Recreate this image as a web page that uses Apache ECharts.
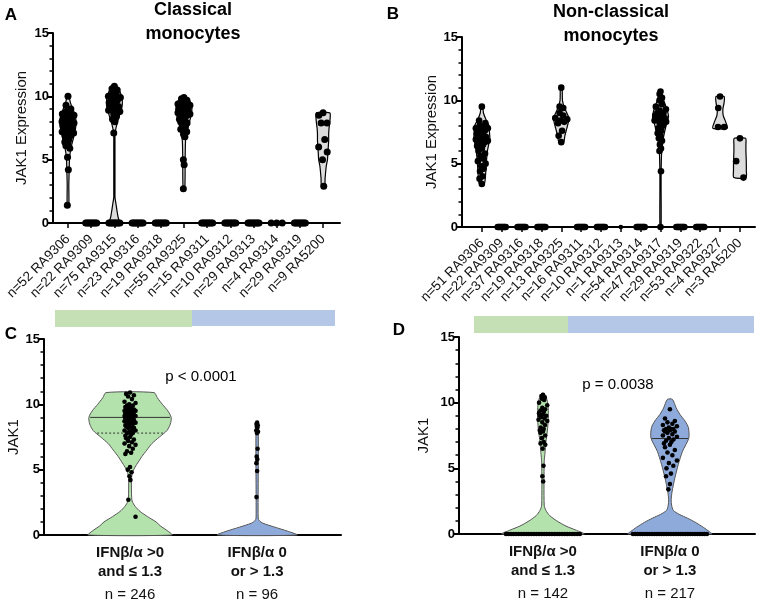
<!DOCTYPE html>
<html>
<head>
<meta charset="utf-8">
<script src="https://cdn.jsdelivr.net/npm/echarts@6/dist/echarts.min.js"></script>
<style>
  html, body { margin: 0; background: #fff; }
  #chart { width: 757px; height: 602px; }
</style>
</head>
<body>
<div id="chart"></div>
<script>
// ---- data ----
const catsA = ['n=52 RA9306', 'n=22 RA9309', 'n=75 RA9315', 'n=23 RA9316', 'n=19 RA9318', 'n=55 RA9325',
  'n=15 RA9311', 'n=10 RA9312', 'n=29 RA9313', 'n=4 RA9314', 'n=29 RA9319', 'n=9 RA5200'];
const catsB = ['n=51 RA9306', 'n=22 RA9309', 'n=37 RA9316', 'n=19 RA9318', 'n=13 RA9325', 'n=16 RA9311',
  'n=10 RA9312', 'n=1 RA9313', 'n=54 RA9314', 'n=47 RA9317', 'n=29 RA9319', 'n=53 RA9322', 'n=4 RA9327', 'n=3 RA5200'];
const groups = ['IFNβ/α >0\nand ≤ 1.3', 'IFNβ/α 0\nor > 1.3'];
const groupNC = ['n = 246', 'n = 96'];
const groupND = ['n = 142', 'n = 217'];
const pValues = ['p < 0.0001', 'p = 0.0038'];

// JAK1 expression per cell, one list per category
const pointsA = [
  [10.0, 9.3, 9.0, 8.8, 8.7, 8.6, 8.5, 8.5, 8.4, 8.3, 8.3, 8.2, 8.2, 8.1, 8.1, 8.0, 8.0, 8.0, 7.9, 7.9, 7.8, 7.8, 7.7, 7.7,
    7.6, 7.5, 7.5, 7.4, 7.3, 7.2, 7.1, 7.0, 6.9, 6.8, 6.6, 6.4, 6.3, 6.1, 5.9, 5.2, 4.2, 1.4],
  [0, 0, 0, 0, 0, 0, 0, 0, 0],
  [10.8, 10.6, 10.5, 10.3, 10.2, 10.0, 9.9, 9.8, 9.7, 9.6, 9.5, 9.5, 9.4, 9.3, 9.2, 9.1, 9.0, 8.9, 8.8, 8.6, 8.4, 8.2,
    8.0, 7.1, 0, 0, 0, 0, 0, 0, 0, 0, 0],
  [0, 0, 0, 0, 0, 0, 0, 0, 0],
  [0, 0, 0, 0, 0, 0, 0, 0, 0],
  [9.9, 9.8, 9.7, 9.6, 9.5, 9.4, 9.3, 9.3, 9.2, 9.1, 9.1, 9.0, 9.0, 8.9, 8.9, 8.8, 8.8, 8.7, 8.6, 8.5, 8.5, 8.4, 8.3,
    8.2, 8.1, 8.0, 7.9, 7.8, 7.6, 7.4, 7.2, 7.0, 6.8, 5.0, 4.6, 2.7],
  [0, 0, 0, 0, 0, 0, 0, 0, 0],
  [0, 0, 0, 0, 0, 0, 0, 0, 0],
  [0, 0, 0, 0, 0, 0, 0, 0, 0],
  [0, 0, 0],
  [0, 0, 0, 0, 0, 0, 0, 0, 0],
  [8.7, 8.5, 7.9, 7.9, 6.6, 6.0, 5.6, 5.0, 2.9]
];
const pointsB = [
  [9.5, 8.4, 8.2, 8.0, 7.9, 7.8, 7.8, 7.7, 7.6, 7.5, 7.5, 7.4, 7.3, 7.2, 7.1, 7.0, 7.0, 6.9, 6.8, 6.8, 6.7, 6.6, 6.5,
    6.4, 6.2, 6.0, 5.8, 5.6, 5.4, 5.2, 5.0, 4.8, 4.6, 4.4, 4.0, 3.8, 3.4],
  [0, 0, 0, 0, 0, 0, 0, 0, 0],
  [0, 0, 0, 0, 0, 0, 0, 0, 0],
  [0, 0, 0, 0, 0, 0, 0, 0, 0],
  [11.0, 9.5, 9.4, 9.0, 8.8, 8.6, 8.5, 8.4, 8.3, 8.2, 7.6, 7.2, 6.7],
  [0, 0, 0, 0, 0, 0, 0, 0, 0],
  [0, 0, 0, 0, 0, 0, 0, 0, 0],
  [0],
  [0, 0, 0, 0, 0, 0, 0, 0, 0],
  [10.7, 10.5, 10.2, 10.0, 9.7, 9.5, 9.3, 9.2, 9.0, 9.0, 8.9, 8.8, 8.8, 8.7, 8.6, 8.5, 8.5, 8.4, 8.3, 8.2, 8.0, 7.8,
    7.6, 7.4, 7.2, 7.0, 6.8, 6.5, 6.2, 6.0, 4.4, 0],
  [0, 0, 0, 0, 0, 0, 0, 0, 0],
  [0, 0, 0, 0, 0, 0, 0, 0, 0],
  [10.3, 9.4, 7.9, 7.9],
  [7.0, 5.2, 3.9]
];
const pointsC = [
  [10.9, 10.8, 10.7, 10.6, 10.4, 10.2, 10.1, 10.0, 9.9, 9.9, 9.8, 9.8, 9.7, 9.7, 9.6, 9.6, 9.5, 9.5, 9.5, 9.4, 9.4, 9.4,
    9.3, 9.3, 9.3, 9.2, 9.2, 9.2, 9.1, 9.1, 9.1, 9.0, 9.0, 9.0, 8.9, 8.9, 8.9, 8.8, 8.8, 8.8, 8.7, 8.7, 8.6, 8.6, 8.5,
    8.5, 8.4, 8.4, 8.3, 8.3, 8.2, 8.2, 8.1, 8.0, 8.0, 7.9, 7.8, 7.8, 7.7, 7.6, 7.5, 7.4, 7.3, 7.2, 7.1, 7.0, 6.9, 6.8,
    6.6, 6.4, 6.3, 6.2, 5.2, 5.0, 4.8, 4.5, 4.2, 2.7, 1.4],
  [8.6, 8.5, 8.4, 8.3, 8.2, 8.0, 7.9, 7.8, 6.6, 6.0, 5.8, 5.5, 4.9, 2.9]
];
const pointsD = [
  [10.6, 10.5, 10.4, 10.3, 10.2, 10.0, 9.8, 9.6, 9.5, 9.4, 9.3, 9.2, 9.1, 9.0, 9.0, 8.9, 8.8, 8.7, 8.6, 8.5, 8.3, 8.1,
    8.0, 7.9, 7.8, 7.7, 7.5, 7.3, 7.0, 6.9, 6.8, 6.5, 5.2, 4.4, 4.0,
    0, 0, 0, 0, 0, 0, 0, 0, 0, 0, 0, 0, 0, 0, 0, 0, 0, 0, 0, 0, 0, 0, 0, 0, 0, 0, 0, 0, 0, 0],
  [9.5, 8.8, 8.6, 8.5, 8.4, 8.3, 8.2, 8.1, 8.0, 8.0, 8.0, 7.9, 7.9, 7.8, 7.8, 7.7, 7.6, 7.5, 7.4, 7.3, 7.2, 7.1, 7.0,
    6.9, 6.8, 6.6, 6.4, 6.2, 6.0, 5.8, 5.6, 5.4, 5.2, 5.0, 4.6, 4.4, 3.8, 3.4,
    0, 0, 0, 0, 0, 0, 0, 0, 0, 0, 0, 0, 0, 0, 0, 0, 0, 0, 0, 0, 0, 0, 0, 0, 0, 0, 0, 0, 0, 0, 0, 0]
];

// violin density outlines: [JAK1 value, relative half width]
const shapesA = [
  [[1.4, 0.1], [3, 0.1], [4.2, 0.15], [5.2, 0.2], [6, 0.4], [6.5, 0.6], [7, 0.8], [7.5, 0.95], [8, 1], [8.5, 0.9],
    [9, 0.6], [9.5, 0.3], [10, 0.1]],
  null,
  [[0, 0.6], [0.5, 0.45], [1, 0.32], [1.5, 0.2], [2, 0.08], [2.5, 0.03], [6.5, 0.03], [7.0, 0.08], [7.5, 0.2],
    [8, 0.4], [8.5, 0.65], [9, 0.9], [9.5, 1], [10, 0.9], [10.5, 0.6], [10.8, 0.3]],
  null, null,
  [[2.7, 0.1], [4.5, 0.15], [5, 0.15], [6.5, 0.2], [7, 0.35], [7.5, 0.5], [8, 0.7], [8.5, 0.9], [9, 1], [9.5, 0.85],
    [9.9, 0.4]],
  null, null, null, null, null,
  [[2.9, 0.2], [3.5, 0.25], [4.5, 0.4], [5, 0.55], [5.5, 0.6], [6, 0.65], [6.5, 0.7], [7, 0.7], [7.5, 0.75],
    [8, 0.85], [8.5, 0.9], [8.7, 0.85]]
];
const shapesB = [
  [[3.4, 0.3], [4, 0.45], [5, 0.55], [6, 0.7], [6.5, 0.85], [7, 1], [7.5, 0.95], [8, 0.9], [8.5, 0.5], [9, 0.2],
    [9.5, 0.1]],
  null, null, null,
  [[6.7, 0.3], [7.2, 0.45], [7.8, 0.7], [8.3, 0.9], [8.6, 0.95], [9, 0.7], [9.5, 0.35], [10, 0.15], [11, 0.1]],
  null, null, null, null,
  [[0, 0.05], [4, 0.05], [6, 0.15], [7, 0.35], [8, 0.7], [8.7, 1], [9.3, 0.8], [10, 0.4], [10.7, 0.1]],
  null, null,
  [[7.8, 0.9], [8.3, 0.7], [8.8, 0.4], [9.3, 0.35], [9.8, 0.5], [10.3, 0.5]],
  [[3.9, 0.75], [4.5, 0.8], [5, 0.8], [5.5, 0.78], [6, 0.75], [6.5, 0.75], [7, 0.7]]
];
const shapesC = [
  [[0, 1.0], [0.3, 0.9], [0.7, 0.72], [1.0, 0.62], [1.4, 0.42], [1.8, 0.24], [2.2, 0.12], [2.6, 0.05], [3.2, 0.035],
    [4.3, 0.035], [4.8, 0.06], [5.2, 0.12], [5.6, 0.2], [6.0, 0.28], [6.5, 0.4], [7.0, 0.52], [7.5, 0.7], [8.0, 0.88],
    [8.5, 0.96], [9.0, 0.98], [9.5, 0.9], [10.0, 0.77], [10.5, 0.65], [10.9, 0.57]],
  [[0, 0.95], [0.3, 0.72], [0.6, 0.42], [0.9, 0.14], [1.1, 0.05], [1.3, 0.025], [8.6, 0.025]]
];
const shapesD = [
  [[0, 0.98], [0.3, 0.78], [0.6, 0.55], [1.0, 0.33], [1.4, 0.16], [1.8, 0.07], [2.2, 0.03], [5.5, 0.03], [6.2, 0.05],
    [7.0, 0.07], [8.0, 0.11], [9.0, 0.13], [9.8, 0.12], [10.3, 0.09], [10.7, 0.03]],
  [[0, 1.0], [0.2, 0.93], [0.5, 0.8], [0.9, 0.6], [1.2, 0.42], [1.5, 0.22], [1.8, 0.08], [2.2, 0.04], [2.6, 0.03],
    [3.2, 0.05], [4.3, 0.12], [5.3, 0.2], [6.3, 0.3], [7.3, 0.45], [8.1, 0.44], [8.6, 0.36], [9.1, 0.24], [9.6, 0.15],
    [10.25, 0.06]]
];
// median / quartile lines inside the summary violins
const linesC = [[9.0, 7.8], []];
const linesD = [[], [7.27]];

// ---- drawing helpers ----
const FONT = 'Liberation Sans, Arial, sans-serif';
const GREEN = '#b3e2ad', BLUE = '#8eaadb';
const jitter = [0, -0.7, 0.7, -0.35, 0.35, -1, 1, -0.15, 0.5, -0.55, 0.2, -0.85];

function widthAt(shape, v) {
  if (!shape) return 0;
  if (v <= shape[0][0]) return shape[0][1];
  for (let i = 1; i < shape.length; i++) {
    if (v <= shape[i][0]) {
      const [v0, w0] = shape[i - 1], [v1, w1] = shape[i];
      return w0 + (w1 - w0) * (v - v0) / (v1 - v0);
    }
  }
  return shape[shape.length - 1][1];
}

function violinSeries(grid, xs, shapes, lines, opt) {
  const items = [];
  shapes.forEach((s, i) => {
    if (s) items.push({ x: xs[i], shape: s, lines: lines ? lines[i] : [], fill: opt.fills ? opt.fills[i] : opt.fill });
  });
  return {
    type: 'custom', xAxisIndex: grid, yAxisIndex: grid, silent: true, z: 2,
    data: items.map(it => [it.x, 0]),
    renderItem: (params, api) => {
      const it = items[params.dataIndex];
      const left = [], right = [];
      it.shape.forEach(([v, w]) => {
        const p = api.coord([it.x, v]);
        const h = Math.max(w * opt.half, 0.6);
        left.push([p[0] - h, p[1]]);
        right.unshift([p[0] + h, p[1]]);
      });
      const children = [{
        type: 'polygon',
        shape: { points: left.concat(right), smooth: 0.25 },
        style: { fill: it.fill, stroke: opt.stroke, lineWidth: opt.lw || 1 }
      }];
      it.lines.forEach((v, k) => {
        const p = api.coord([it.x, v]);
        const h = widthAt(it.shape, v) * opt.half * 0.97;
        children.push({
          type: 'line',
          shape: { x1: p[0] - h, y1: p[1], x2: p[0] + h, y2: p[1] },
          style: { stroke: '#333', lineWidth: 1, lineDash: k === 0 ? null : [2, 2] },
          z2: 20
        });
      });
      return { type: 'group', children };
    }
  };
}

function pointSeries(grid, xs, points, shapes, opt) {
  const data = [];
  points.forEach((vals, c) => {
    const nz = vals.filter(v => v === 0).length;
    let zi = 0;
    vals.forEach((v, i) => {
      let off;
      if (v === 0) {
        off = nz > 1 ? (-1 + 2 * zi / (nz - 1)) * opt.zeroHalf : 0;
        zi++;
      } else {
        const spread = Math.min(opt.cap, widthAt(shapes[c], v) * opt.half * 0.85);
        off = jitter[i % jitter.length] * spread;
      }
      data.push([xs[c], v, off, vals.length === 1 ? opt.r * 0.7 : opt.r]);
    });
  });
  return {
    type: 'custom', xAxisIndex: grid, yAxisIndex: grid, silent: true, z: 3,
    data,
    renderItem: (params, api) => {
      const p = api.coord([api.value(0), api.value(1)]);
      return {
        type: 'circle',
        shape: { cx: p[0] + api.value(2), cy: p[1], r: api.value(3) },
        style: { fill: '#000' }
      };
    }
  };
}

function yAxis(grid, name, gap) {
  return {
    type: 'value', gridIndex: grid, min: 0, max: 15, interval: 5,
    name, nameLocation: 'middle', nameGap: gap,
    nameTextStyle: { fontSize: 15, color: '#111', fontFamily: FONT },
    axisLine: { show: true, onZero: false, lineStyle: { color: '#000', width: 2 } },
    axisTick: { show: true, length: 6, lineStyle: { color: '#000', width: 2 } },
    minorTick: { show: true, splitNumber: 5, length: 3.5, lineStyle: { color: '#000', width: 1.5 } },
    splitLine: { show: false },
    axisLabel: { fontSize: 13, fontWeight: 'bold', color: '#000', margin: 4, fontFamily: FONT }
  };
}

function catXAxis(grid, cats, min, max) {
  const ticks = cats.map((c, i) => i);
  return {
    type: 'value', gridIndex: grid, min, max,
    axisLine: { onZero: false, lineStyle: { color: '#000', width: 2 } },
    axisTick: { show: true, customValues: ticks, length: 5, lineStyle: { color: '#000', width: 1.5 } },
    axisLabel: {
      customValues: ticks, rotate: 45, margin: 14, fontSize: 13.5, color: '#111', fontFamily: FONT,
      formatter: v => cats[Math.round(v)]
    },
    splitLine: { show: false }
  };
}

function groupXAxis(grid, nLabels, min, max) {
  return {
    type: 'value', gridIndex: grid, min, max,
    axisLine: { onZero: false, lineStyle: { color: '#000', width: 2 } },
    axisTick: { show: false },
    axisLabel: {
      customValues: [1, 2], margin: 8, fontFamily: FONT,
      formatter: v => {
        const parts = groups[v - 1].split('\n');
        return '{b|' + parts[0] + '}\n{b|' + parts[1] + '}\n{n|' + nLabels[v - 1] + '}';
      },
      rich: {
        b: { fontSize: 15, fontWeight: 'bold', color: '#111', lineHeight: 19, fontFamily: FONT },
        n: { fontSize: 15, color: '#111', lineHeight: 27, fontFamily: FONT }
      }
    },
    splitLine: { show: false }
  };
}

function label(text, x, y, font) {
  return { type: 'text', x, y, style: { text, font, fill: '#000', align: 'center', verticalAlign: 'middle' } };
}

const xsA = catsA.map((c, i) => i);
const xsB = catsB.map((c, i) => i);
const xsG = [1, 2];

const chart = echarts.init(document.getElementById('chart'));
chart.setOption({
  animation: false,
  textStyle: { fontFamily: FONT },
  grid: [
    { left: 53, top: 33, width: 287, height: 190, outerBoundsMode: 'none', containLabel: false },
    { left: 462, top: 37, width: 293, height: 190, outerBoundsMode: 'none', containLabel: false },
    { left: 44, top: 339, width: 297, height: 196, outerBoundsMode: 'none', containLabel: false },
    { left: 459, top: 337, width: 296, height: 197, outerBoundsMode: 'none', containLabel: false }
  ],
  xAxis: [
    catXAxis(0, catsA, -0.647, 11.73),
    catXAxis(1, catsB, -1.0, 13.76),
    groupXAxis(2, groupNC, 0.323, 2.66),
    groupXAxis(3, groupND, 0.339, 2.67)
  ],
  yAxis: [
    yAxis(0, 'JAK1 Expression', 24),
    yAxis(1, 'JAK1 Expression', 22),
    yAxis(2, 'JAK1', 20),
    yAxis(3, 'JAK1', 28)
  ],
  series: [
    violinSeries(0, xsA, shapesA, null, { half: 8, fill: '#dcdcdc', stroke: '#000', lw: 1.2 }),
    pointSeries(0, xsA, pointsA, shapesA, { half: 8, cap: 6, zeroHalf: 5.5, r: 3.5 }),
    violinSeries(1, xsB, shapesB, null, { half: 8, fill: '#dcdcdc', stroke: '#000', lw: 1.2 }),
    pointSeries(1, xsB, pointsB, shapesB, { half: 8, cap: 6, zeroHalf: 4, r: 3.3 }),
    violinSeries(2, xsG, shapesC, linesC, { half: 42, fills: [GREEN, BLUE], stroke: '#555' }),
    pointSeries(2, xsG, pointsC, shapesC, { half: 42, cap: 5.5, zeroHalf: 0, r: 2.3 }),
    violinSeries(3, xsG, shapesD, linesD, { half: 42, fills: [GREEN, BLUE], stroke: '#555' }),
    pointSeries(3, xsG, pointsD, shapesD, { half: 42, cap: 7, zeroHalf: 37, r: 2.3 })
  ],
  graphic: [
    label('A', 11, 15, 'bold 17px ' + FONT),
    label('B', 393, 14, 'bold 17px ' + FONT),
    label('C', 11, 334, 'bold 17px ' + FONT),
    label('D', 399, 330, 'bold 17px ' + FONT),
    label('Classical', 193, 10, 'bold 18px ' + FONT),
    label('monocytes', 193, 34, 'bold 18px ' + FONT),
    label('Non-classical', 611, 12, 'bold 18px ' + FONT),
    label('monocytes', 611, 36, 'bold 18px ' + FONT),
    label(pValues[0], 201, 377, '15px ' + FONT),
    label(pValues[1], 618, 385, '15px ' + FONT),
    { type: 'rect', shape: { x: 55, y: 310, width: 137, height: 17 }, style: { fill: '#c5e0b4' } },
    { type: 'rect', shape: { x: 192, y: 310, width: 143, height: 16 }, style: { fill: '#b4c7e7' } },
    { type: 'rect', shape: { x: 474, y: 316, width: 94, height: 17 }, style: { fill: '#c5e0b4' } },
    { type: 'rect', shape: { x: 568, y: 316, width: 186, height: 17 }, style: { fill: '#b4c7e7' } }
  ]
});
</script>
</body>
</html>
